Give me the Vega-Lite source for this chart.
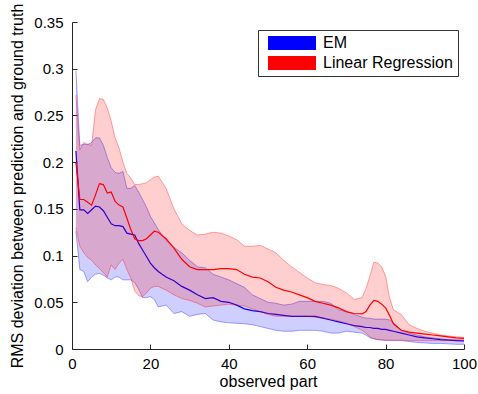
{
  "$schema": "https://vega.github.io/schema/vega-lite/v6.json",
  "width": 392,
  "height": 327,
  "autosize": "none",
  "padding": {"left": 72, "top": 22, "right": 14, "bottom": 45},
  "background": "white",
  "config": {
    "view": {"stroke": null},
    "font": "Liberation Sans",
    "axis": {
      "grid": false,
      "labelFlush": false,
      "domainColor": "#262626",
      "tickColor": "#262626",
      "labelColor": "#000000",
      "titleColor": "#000000",
      "labelFont": "Liberation Sans",
      "titleFont": "Liberation Sans",
      "labelFontSize": 15,
      "titleFontSize": 16,
      "titleFontWeight": "normal",
      "tickSize": -5,
      "domainWidth": 1,
      "tickWidth": 1
    },
    "legend": {
      "labelFont": "Liberation Sans",
      "labelFontSize": 16,
      "labelColor": "#000000"
    }
  },
  "datasets": {
    "d": [
      {"x":1,"m":"EM","mean":0.212,"lo":0.126,"hi":0.298},
      {"x":2,"m":"EM","mean":0.149,"lo":0.085,"hi":0.218},
      {"x":3,"m":"EM","mean":0.149,"lo":0.083,"hi":0.219},
      {"x":4,"m":"EM","mean":0.145,"lo":0.072,"hi":0.219},
      {"x":5,"m":"EM","mean":0.149,"lo":0.077,"hi":0.221},
      {"x":6,"m":"EM","mean":0.153,"lo":0.080,"hi":0.226},
      {"x":7,"m":"EM","mean":0.152,"lo":0.081,"hi":0.226},
      {"x":8,"m":"EM","mean":0.148,"lo":0.079,"hi":0.218},
      {"x":9,"m":"EM","mean":0.141,"lo":0.076,"hi":0.205},
      {"x":10,"m":"EM","mean":0.134,"lo":0.074,"hi":0.194},
      {"x":11,"m":"EM","mean":0.132,"lo":0.077,"hi":0.189},
      {"x":12,"m":"EM","mean":0.132,"lo":0.077,"hi":0.188},
      {"x":13,"m":"EM","mean":0.131,"lo":0.074,"hi":0.190},
      {"x":14,"m":"EM","mean":0.124,"lo":0.074,"hi":0.172},
      {"x":15,"m":"EM","mean":0.123,"lo":0.074,"hi":0.172},
      {"x":16,"m":"EM","mean":0.122,"lo":0.071,"hi":0.175},
      {"x":17,"m":"EM","mean":0.113,"lo":0.064,"hi":0.168},
      {"x":18,"m":"EM","mean":0.106,"lo":0.055,"hi":0.160},
      {"x":19,"m":"EM","mean":0.099,"lo":0.055,"hi":0.152},
      {"x":20,"m":"EM","mean":0.092,"lo":0.056,"hi":0.142},
      {"x":21,"m":"EM","mean":0.087,"lo":0.053,"hi":0.135},
      {"x":22,"m":"EM","mean":0.083,"lo":0.045,"hi":0.128},
      {"x":24,"m":"EM","mean":0.077,"lo":0.047,"hi":0.116},
      {"x":26,"m":"EM","mean":0.073,"lo":0.038,"hi":0.109},
      {"x":28,"m":"EM","mean":0.067,"lo":0.040,"hi":0.103},
      {"x":30,"m":"EM","mean":0.063,"lo":0.035,"hi":0.095},
      {"x":32,"m":"EM","mean":0.058,"lo":0.037,"hi":0.088},
      {"x":34,"m":"EM","mean":0.054,"lo":0.038,"hi":0.087},
      {"x":36,"m":"EM","mean":0.055,"lo":0.031,"hi":0.080},
      {"x":38,"m":"EM","mean":0.051,"lo":0.029,"hi":0.077},
      {"x":40,"m":"EM","mean":0.050,"lo":0.028,"hi":0.074},
      {"x":42,"m":"EM","mean":0.047,"lo":0.0275,"hi":0.070},
      {"x":44,"m":"EM","mean":0.043,"lo":0.027,"hi":0.066},
      {"x":46,"m":"EM","mean":0.041,"lo":0.026,"hi":0.058},
      {"x":48,"m":"EM","mean":0.040,"lo":0.024,"hi":0.054},
      {"x":50,"m":"EM","mean":0.038,"lo":0.022,"hi":0.050},
      {"x":52,"m":"EM","mean":0.037,"lo":0.020,"hi":0.049},
      {"x":54,"m":"EM","mean":0.036,"lo":0.019,"hi":0.047},
      {"x":56,"m":"EM","mean":0.035,"lo":0.019,"hi":0.048},
      {"x":58,"m":"EM","mean":0.035,"lo":0.020,"hi":0.051},
      {"x":60,"m":"EM","mean":0.035,"lo":0.020,"hi":0.051},
      {"x":62,"m":"EM","mean":0.035,"lo":0.020,"hi":0.051},
      {"x":64,"m":"EM","mean":0.033,"lo":0.019,"hi":0.051},
      {"x":66,"m":"EM","mean":0.031,"lo":0.017,"hi":0.049},
      {"x":68,"m":"EM","mean":0.029,"lo":0.017,"hi":0.042},
      {"x":70,"m":"EM","mean":0.027,"lo":0.019,"hi":0.040},
      {"x":72,"m":"EM","mean":0.025,"lo":0.018,"hi":0.037},
      {"x":74,"m":"EM","mean":0.024,"lo":0.017,"hi":0.034},
      {"x":75,"m":"EM","mean":0.023,"lo":0.015,"hi":0.033},
      {"x":76,"m":"EM","mean":0.023,"lo":0.012,"hi":0.033},
      {"x":77,"m":"EM","mean":0.022,"lo":0.011,"hi":0.032},
      {"x":78,"m":"EM","mean":0.022,"lo":0.010,"hi":0.032},
      {"x":79,"m":"EM","mean":0.021,"lo":0.0095,"hi":0.032},
      {"x":80,"m":"EM","mean":0.021,"lo":0.009,"hi":0.032},
      {"x":81,"m":"EM","mean":0.020,"lo":0.009,"hi":0.031},
      {"x":82,"m":"EM","mean":0.019,"lo":0.009,"hi":0.028},
      {"x":84,"m":"EM","mean":0.017,"lo":0.009,"hi":0.020},
      {"x":86,"m":"EM","mean":0.015,"lo":0.008,"hi":0.017},
      {"x":88,"m":"EM","mean":0.013,"lo":0.007,"hi":0.015},
      {"x":90,"m":"EM","mean":0.012,"lo":0.0065,"hi":0.013},
      {"x":92,"m":"EM","mean":0.011,"lo":0.006,"hi":0.012},
      {"x":94,"m":"EM","mean":0.010,"lo":0.006,"hi":0.011},
      {"x":96,"m":"EM","mean":0.0095,"lo":0.0055,"hi":0.010},
      {"x":98,"m":"EM","mean":0.009,"lo":0.005,"hi":0.0098},
      {"x":100,"m":"EM","mean":0.0086,"lo":0.005,"hi":0.0096},
      {"x":1,"m":"Linear Regression","mean":0.200,"lo":0.130,"hi":0.272},
      {"x":2,"m":"Linear Regression","mean":0.160,"lo":0.110,"hi":0.213},
      {"x":3,"m":"Linear Regression","mean":0.160,"lo":0.103,"hi":0.221},
      {"x":4,"m":"Linear Regression","mean":0.157,"lo":0.098,"hi":0.219},
      {"x":5,"m":"Linear Regression","mean":0.154,"lo":0.095,"hi":0.218},
      {"x":6,"m":"Linear Regression","mean":0.165,"lo":0.090,"hi":0.256},
      {"x":7,"m":"Linear Regression","mean":0.177,"lo":0.086,"hi":0.268},
      {"x":8,"m":"Linear Regression","mean":0.176,"lo":0.082,"hi":0.267},
      {"x":9,"m":"Linear Regression","mean":0.167,"lo":0.077,"hi":0.258},
      {"x":10,"m":"Linear Regression","mean":0.168,"lo":0.090,"hi":0.244},
      {"x":11,"m":"Linear Regression","mean":0.158,"lo":0.085,"hi":0.226},
      {"x":12,"m":"Linear Regression","mean":0.154,"lo":0.092,"hi":0.215},
      {"x":13,"m":"Linear Regression","mean":0.152,"lo":0.096,"hi":0.200},
      {"x":14,"m":"Linear Regression","mean":0.140,"lo":0.085,"hi":0.188},
      {"x":15,"m":"Linear Regression","mean":0.128,"lo":0.076,"hi":0.183},
      {"x":16,"m":"Linear Regression","mean":0.118,"lo":0.062,"hi":0.176},
      {"x":17,"m":"Linear Regression","mean":0.116,"lo":0.057,"hi":0.176},
      {"x":18,"m":"Linear Regression","mean":0.116,"lo":0.056,"hi":0.177},
      {"x":19,"m":"Linear Regression","mean":0.118,"lo":0.060,"hi":0.178},
      {"x":20,"m":"Linear Regression","mean":0.122,"lo":0.065,"hi":0.181},
      {"x":21,"m":"Linear Regression","mean":0.126,"lo":0.067,"hi":0.184},
      {"x":22,"m":"Linear Regression","mean":0.125,"lo":0.067,"hi":0.185},
      {"x":24,"m":"Linear Regression","mean":0.118,"lo":0.063,"hi":0.172},
      {"x":26,"m":"Linear Regression","mean":0.108,"lo":0.058,"hi":0.150},
      {"x":28,"m":"Linear Regression","mean":0.096,"lo":0.054,"hi":0.134},
      {"x":30,"m":"Linear Regression","mean":0.088,"lo":0.052,"hi":0.127},
      {"x":32,"m":"Linear Regression","mean":0.085,"lo":0.049,"hi":0.122},
      {"x":34,"m":"Linear Regression","mean":0.085,"lo":0.045,"hi":0.123},
      {"x":36,"m":"Linear Regression","mean":0.085,"lo":0.046,"hi":0.125},
      {"x":38,"m":"Linear Regression","mean":0.086,"lo":0.047,"hi":0.124},
      {"x":40,"m":"Linear Regression","mean":0.086,"lo":0.048,"hi":0.121},
      {"x":42,"m":"Linear Regression","mean":0.085,"lo":0.047,"hi":0.117},
      {"x":44,"m":"Linear Regression","mean":0.080,"lo":0.046,"hi":0.110},
      {"x":46,"m":"Linear Regression","mean":0.077,"lo":0.043,"hi":0.110},
      {"x":48,"m":"Linear Regression","mean":0.076,"lo":0.040,"hi":0.111},
      {"x":50,"m":"Linear Regression","mean":0.072,"lo":0.037,"hi":0.107},
      {"x":52,"m":"Linear Regression","mean":0.066,"lo":0.035,"hi":0.103},
      {"x":54,"m":"Linear Regression","mean":0.063,"lo":0.035,"hi":0.095},
      {"x":56,"m":"Linear Regression","mean":0.061,"lo":0.035,"hi":0.088},
      {"x":58,"m":"Linear Regression","mean":0.058,"lo":0.035,"hi":0.082},
      {"x":60,"m":"Linear Regression","mean":0.055,"lo":0.035,"hi":0.076},
      {"x":62,"m":"Linear Regression","mean":0.051,"lo":0.034,"hi":0.071},
      {"x":64,"m":"Linear Regression","mean":0.049,"lo":0.033,"hi":0.069},
      {"x":66,"m":"Linear Regression","mean":0.047,"lo":0.032,"hi":0.068},
      {"x":68,"m":"Linear Regression","mean":0.044,"lo":0.030,"hi":0.065},
      {"x":70,"m":"Linear Regression","mean":0.040,"lo":0.028,"hi":0.060},
      {"x":72,"m":"Linear Regression","mean":0.038,"lo":0.024,"hi":0.053},
      {"x":74,"m":"Linear Regression","mean":0.0375,"lo":0.020,"hi":0.055},
      {"x":75,"m":"Linear Regression","mean":0.040,"lo":0.017,"hi":0.065},
      {"x":76,"m":"Linear Regression","mean":0.047,"lo":0.013,"hi":0.078},
      {"x":77,"m":"Linear Regression","mean":0.052,"lo":0.011,"hi":0.093},
      {"x":78,"m":"Linear Regression","mean":0.051,"lo":0.010,"hi":0.092},
      {"x":79,"m":"Linear Regression","mean":0.048,"lo":0.010,"hi":0.088},
      {"x":80,"m":"Linear Regression","mean":0.044,"lo":0.0096,"hi":0.078},
      {"x":81,"m":"Linear Regression","mean":0.036,"lo":0.0095,"hi":0.055},
      {"x":82,"m":"Linear Regression","mean":0.027,"lo":0.0095,"hi":0.042},
      {"x":84,"m":"Linear Regression","mean":0.020,"lo":0.0095,"hi":0.037},
      {"x":86,"m":"Linear Regression","mean":0.018,"lo":0.009,"hi":0.026},
      {"x":88,"m":"Linear Regression","mean":0.017,"lo":0.009,"hi":0.022},
      {"x":90,"m":"Linear Regression","mean":0.016,"lo":0.009,"hi":0.019},
      {"x":92,"m":"Linear Regression","mean":0.015,"lo":0.009,"hi":0.017},
      {"x":94,"m":"Linear Regression","mean":0.014,"lo":0.009,"hi":0.015},
      {"x":96,"m":"Linear Regression","mean":0.013,"lo":0.009,"hi":0.014},
      {"x":98,"m":"Linear Regression","mean":0.012,"lo":0.009,"hi":0.013},
      {"x":100,"m":"Linear Regression","mean":0.0114,"lo":0.009,"hi":0.0125}
    ]
  },
  "data": {"name": "d"},
  "encoding": {
    "x": {
      "field": "x", "type": "quantitative",
      "scale": {"domain": [0, 100], "nice": false},
      "axis": {"values": [0, 20, 40, 60, 80, 100], "title": "observed part", "labelPadding": 12, "titlePadding": 2}
    }
  },
  "layer": [
    {
      "transform": [{"filter": "datum.m === 'EM'"}],
      "mark": {"type": "area", "fillOpacity": 0.19},
      "encoding": {
        "y": {"field": "lo", "type": "quantitative",
          "scale": {"domain": [0, 0.35], "nice": false},
          "axis": {"values": [0, 0.05, 0.1, 0.15, 0.2, 0.25, 0.3, 0.35], "format": "~g", "title": "RMS deviation between prediction and ground truth", "labelPadding": 14, "titlePadding": 8}},
        "y2": {"field": "hi"},
        "fill": {"field": "m", "type": "nominal",
          "scale": {"domain": ["EM", "Linear Regression"], "range": ["#0000ff", "#ff0000"]},
          "legend": {
            "title": null, "orient": "none", "legendX": 186, "legendY": 8,
            "symbolType": "M-3.43,-1H3.43V1H-3.43Z", "symbolSize": 196,
            "symbolStrokeWidth": 0, "symbolOffset": 21,
            "strokeColor": "#333333", "padding": 5, "rowPadding": 4,
            "labelOffset": 23,
            "encode": {"symbols": {"update": {"fillOpacity": {"value": 1}, "opacity": {"value": 1}}}}
          }
        }
      }
    },
    {
      "transform": [{"filter": "datum.m === 'EM'"}],
      "mark": {"type": "line", "color": "#0000ff", "strokeWidth": 1, "strokeOpacity": 0.35},
      "encoding": {"y": {"field": "hi", "type": "quantitative"}}
    },
    {
      "transform": [{"filter": "datum.m === 'EM'"}],
      "mark": {"type": "line", "color": "#0000ff", "strokeWidth": 1, "strokeOpacity": 0.35},
      "encoding": {"y": {"field": "lo", "type": "quantitative"}}
    },
    {
      "transform": [{"filter": "datum.m === 'EM'"}],
      "mark": {"type": "line", "color": "#0000ff", "strokeWidth": 1.2},
      "encoding": {"y": {"field": "mean", "type": "quantitative"}}
    },
    {
      "transform": [{"filter": "datum.m === 'Linear Regression'"}],
      "mark": {"type": "area", "fillOpacity": 0.19},
      "encoding": {
        "y": {"field": "lo", "type": "quantitative"},
        "y2": {"field": "hi"},
        "fill": {"field": "m", "type": "nominal"}
      }
    },
    {
      "transform": [{"filter": "datum.m === 'Linear Regression'"}],
      "mark": {"type": "line", "color": "#ff0000", "strokeWidth": 1, "strokeOpacity": 0.35},
      "encoding": {"y": {"field": "hi", "type": "quantitative"}}
    },
    {
      "transform": [{"filter": "datum.m === 'Linear Regression'"}],
      "mark": {"type": "line", "color": "#ff0000", "strokeWidth": 1, "strokeOpacity": 0.35},
      "encoding": {"y": {"field": "lo", "type": "quantitative"}}
    },
    {
      "transform": [{"filter": "datum.m === 'Linear Regression'"}],
      "mark": {"type": "line", "color": "#ff0000", "strokeWidth": 1.2},
      "encoding": {"y": {"field": "mean", "type": "quantitative"}}
    }
  ]
}
